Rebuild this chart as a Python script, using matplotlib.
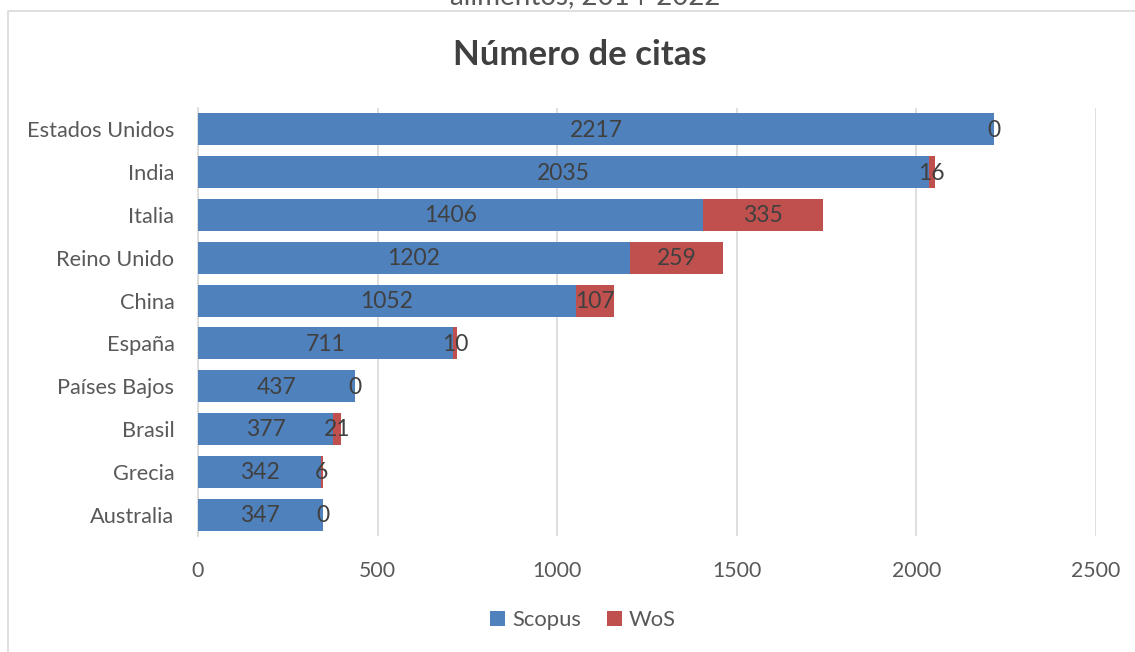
import numpy as np
import matplotlib.pyplot as plt
from matplotlib.patches import Rectangle

plt.rcParams['font.family'] = ['Lato', 'DejaVu Sans']

paises = ['Estados Unidos', 'India', 'Italia', 'Reino Unido', 'China',
          'España', 'Países Bajos', 'Brasil', 'Grecia', 'Australia']
scopus = [2217, 2035, 1406, 1202, 1052, 711, 437, 377, 342, 347]
wos = [0, 16, 335, 259, 107, 10, 0, 21, 6, 0]

c_scopus = '#4F81BD'
c_wos = '#C0504D'
gris = '#595959'

fig = plt.figure(figsize=(11.35, 6.52), dpi=100)

# marco del gráfico (recortado como en la captura)
fig.patches.append(Rectangle((8 / 1135, -0.05), 1.1, 1 - 11 / 652 + 0.05,
                             transform=fig.transFigure, fill=False,
                             edgecolor='#d9d9d9', linewidth=1.2))
# título general cortado arriba
fig.text(585 / 1135, 1 + 4 / 652, 'alimentos, 2014-2022', ha='center', va='center',
         fontsize=20, color=gris)

ax = fig.add_axes([198 / 1135, 1 - 536 / 652, 898 / 1135, 428 / 652])

y = np.arange(len(paises))
ax.barh(y, scopus, height=0.75, color=c_scopus, label='Scopus', zorder=3)
ax.barh(y, wos, left=scopus, height=0.75, color=c_wos, label='WoS', zorder=3)

for i in range(len(paises)):
    ax.text(scopus[i] / 2, i + 0.02, str(scopus[i]), ha='center', va='center',
            fontsize=16.5, color='#404040', zorder=4)
    ax.text(scopus[i] + wos[i] / 2, i + 0.02, str(wos[i]), ha='center', va='center',
            fontsize=16.5, color='#404040', zorder=4)

ax.set_xlim(0, 2500)
ax.set_ylim(len(paises) - 0.5, -0.5)
ax.set_yticks(y)
ax.set_yticklabels(paises)
ax.set_xticks(range(0, 2501, 500))
ax.tick_params(axis='y', length=0, labelsize=15.7, colors=gris, pad=17)
ax.tick_params(axis='x', length=0, labelsize=15.3, colors=gris, pad=18)
ax.grid(axis='x', color='#d9d9d9', linewidth=1.2, zorder=0)
for s in ['top', 'right', 'bottom']:
    ax.spines[s].set_visible(False)
ax.spines['left'].set_color('#d9d9d9')
ax.spines['left'].set_linewidth(1.2)

fig.text(580 / 1135, 1 - 55 / 652, 'Número de citas', ha='center', va='center',
         fontsize=25, fontweight='bold', color='#404040')

fig.legend(loc='center', bbox_to_anchor=(583 / 1135, 1 - 620 / 652), ncol=2,
           frameon=False, fontsize=15.8, labelcolor=gris, handlelength=0.7,
           handleheight=0.7, handletextpad=0.3, columnspacing=1.2)

fig.savefig('out.png', dpi=100)
